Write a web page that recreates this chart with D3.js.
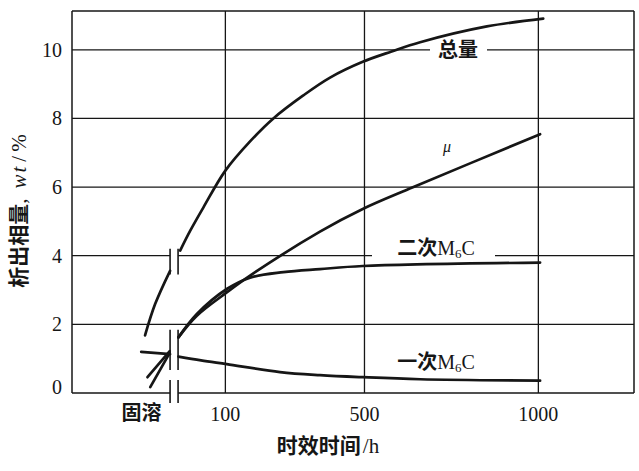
<!DOCTYPE html>
<html><head><meta charset="utf-8">
<script src="https://cdn.jsdelivr.net/npm/d3@7"></script>
<style>body{margin:0;background:#fff}</style>
</head><body><svg id="c" width="639" height="471"></svg>
<script>
// ---- data ----
const yTicks = [0, 2, 4, 6, 8, 10];
const xTicks = [100, 500, 1000];
const xTickLabels = ["100", "500", "1000"];
const solutionLabel = "固溶";
const solutionPos = -141;          // pseudo-position of the solution-treated state
const breakPos = [-59, -36];       // axis break (between solution state and aging)

const totalSolution = [[-131,1.68],[-102,2.59],[-59,3.56]];
const totalAged = [[-30,4.15],[-1,4.73],[37,5.41],[100,6.48],[171,7.33],[238,8.0],[324,8.67],[401,9.19],[495,9.65],[578,9.95],[660,10.22],[852,10.68],[1014,10.91]];
const muSolution = [[-116,0.17],[-60,1.17]];
const muAged = [[-35,1.62],[18,2.25],[104,2.93],[171,3.42],[372,4.70],[495,5.36],[641,6.0],[1005,7.54]];
const m6c2Solution = [[-124,0.46],[-60,1.22]];
const m6c2Aged = [[-35,1.62],[18,2.3],[104,3.03],[171,3.36],[267,3.52],[372,3.61],[495,3.70],[1005,3.80]];
const m6c1Solution = [[-142,1.2],[-59,1.13]];
const m6c1Aged = [[-35,1.06],[30,0.95],[104,0.84],[257,0.61],[372,0.52],[495,0.46],[660,0.40],[1005,0.36]];

// ---- layout ----
const W = 639, H = 471;
const L = 72, R = 634, T = 11, B = 393;
const svg = d3.select("#c");
svg.append("rect").attr("width", W).attr("height", H).attr("fill", "#fff");

const x = d3.scaleLinear().domain([-341, 1275]).range([L, R]);
const y = d3.scaleLinear().domain([0, 11.13]).range([B, T]);

const ink = "#161616";
const serif = "'Liberation Serif','DejaVu Serif',serif";
const cjk = "'Noto Sans CJK SC','Liberation Serif',sans-serif";

const g = svg.append("g");
const seg = (x1, y1, x2, y2, w) => g.append("line")
  .attr("x1", x1).attr("y1", y1).attr("x2", x2).attr("y2", y2)
  .attr("stroke", ink).attr("stroke-width", w);

// gridlines
const bx0 = x(breakPos[0]), bx1 = x(breakPos[1]);
yTicks.filter(v => v > 0).forEach(v => {
  if (v === 4) { seg(L, y(v), bx0, y(v), 1.3); seg(bx1, y(v), R, y(v), 1.3); }
  else seg(L, y(v), R, y(v), 1.3);
});
xTicks.forEach(t => seg(x(t), T, x(t), B, 1.3));

// frame
seg(L, T, R, T, 1.5); seg(L, T, L, B, 1.5); seg(R, T, R, B, 1.5);
seg(L, B, bx0, B, 1.5); seg(bx1, B, R, B, 1.5);

// break marks
[[4.2, 3.45], [1.84, 0.67], [0.38, -0.29]].forEach(([a, b]) => {
  seg(bx0, y(a), bx0, y(b), 1.6); seg(bx1, y(a), bx1, y(b), 1.6);
});

// label backgrounds (gaps in gridlines)
g.append("rect").attr("x", 430).attr("y", y(10) - 10).attr("width", 57).attr("height", 20).attr("fill", "#fff");
g.append("rect").attr("x", 372).attr("y", y(4) - 9).attr("width", 123).attr("height", 18).attr("fill", "#fff");

// curves
const line = d3.line().x(d => x(d[0])).y(d => y(d[1])).curve(d3.curveCatmullRom.alpha(0.5));
[totalSolution, totalAged, muSolution, muAged, m6c2Solution, m6c2Aged, m6c1Solution, m6c1Aged].forEach(d => {
  g.append("path").attr("d", line(d)).attr("fill", "none").attr("stroke", ink)
    .attr("stroke-width", 2.7).attr("stroke-linecap", "round");
});

// y tick labels
yTicks.forEach(v => {
  g.append("text").attr("x", 62).attr("y", y(v) + (v === 0 ? -6 : 0)).attr("dy", "0.35em")
    .attr("text-anchor", "end").attr("font-family", serif).attr("font-size", 20).attr("fill", ink).text(v);
});
// x tick labels
xTicks.forEach((t, i) => {
  g.append("text").attr("x", x(t)).attr("y", 421).attr("text-anchor", "middle")
    .attr("font-family", serif).attr("font-size", 20).attr("fill", ink).text(xTickLabels[i]);
});
g.append("text").attr("x", x(solutionPos)).attr("y", 420).attr("text-anchor", "middle")
  .attr("font-family", cjk).attr("font-weight", 700).attr("font-size", 20).attr("fill", ink).text(solutionLabel);

// axis titles
const xt = g.append("text").attr("x", 328).attr("y", 453).attr("text-anchor", "middle")
  .attr("font-size", 21).attr("fill", ink);
xt.append("tspan").attr("font-family", cjk).attr("font-weight", 700).text("时效时间");
xt.append("tspan").attr("font-family", serif).attr("dx", 2).text("/h");

const yt = g.append("text").attr("transform", "translate(26,209) rotate(-90)").attr("text-anchor", "middle")
  .attr("font-size", 21).attr("fill", ink);
yt.append("tspan").attr("font-family", cjk).attr("font-weight", 700).text("析出相量");
yt.append("tspan").attr("font-family", serif).text(",");
yt.append("tspan").attr("font-family", serif).attr("font-style", "italic").attr("dx", 10).attr("letter-spacing", 2).text("wt");
yt.append("tspan").attr("font-family", serif).attr("dx", 3).attr("letter-spacing", 4).text("/%");

// curve labels
g.append("text").attr("x", 458).attr("y", y(10)).attr("dy", "0.35em").attr("text-anchor", "middle")
  .attr("font-family", cjk).attr("font-weight", 700).attr("font-size", 20).attr("fill", ink).text("总量");
g.append("text").attr("x", 447).attr("y", 152).attr("text-anchor", "middle")
  .attr("font-family", serif).attr("font-style", "italic").attr("font-size", 16).attr("fill", ink).text("μ");

function m6cLabel(prefix, cx, baseline) {
  const t = g.append("text").attr("x", cx).attr("y", baseline).attr("text-anchor", "middle")
    .attr("font-size", 20).attr("fill", ink);
  t.append("tspan").attr("font-family", cjk).attr("font-weight", 700).text(prefix);
  t.append("tspan").attr("font-family", serif).text("M");
  t.append("tspan").attr("font-family", serif).attr("font-size", 13).attr("dy", 3).text("6");
  t.append("tspan").attr("font-family", serif).attr("dy", -3).text("C");
}
m6cLabel("二次", 436, 255);
m6cLabel("一次", 436, 369);
</script></body></html>
